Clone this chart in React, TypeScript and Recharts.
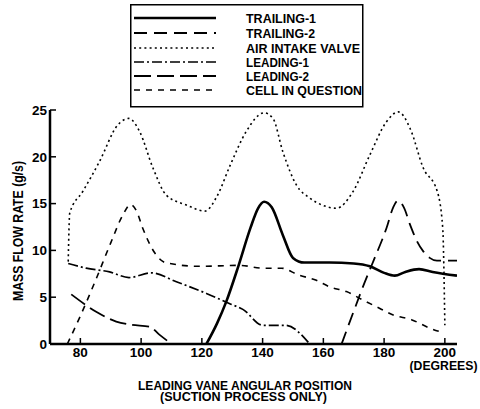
import React from 'react';
import { LineChart, Line, XAxis, YAxis } from 'recharts';

// [leading vane angle (deg), mass flow rate (g/s)]
const trailing1: [number, number][] = [
  [121.5, 0], [125, 2.2], [128, 4.5], [132, 8.3], [136, 12.4], [138.5, 14.5], [140.5, 15.2], [143, 14.6],
  [146.7, 11.6], [150, 9.2], [153.7, 8.7], [162, 8.7], [170, 8.6], [175.3, 8.3], [180, 7.6], [183.5, 7.3],
  [187, 7.7], [191.5, 8.0], [196, 7.7], [204, 7.3],
];
const trailing2: [number, number][] = [
  [166, 0], [170, 3.5], [173.5, 6.5], [176.4, 8.8], [180.8, 12.4], [183, 14.6], [184.5, 15.3], [186.5, 14.6],
  [188.6, 12.7], [190.8, 11], [192.9, 9.9], [195, 9.2], [197.4, 8.9], [204, 8.9],
];
const airIntake: [number, number][] = [
  [76, 8.8], [76.5, 14], [80.8, 16.3], [86.3, 19.5], [92.3, 23.4], [96, 24.1], [99.5, 22.7], [103.9, 18.8],
  [108.3, 15.9], [114.9, 14.85], [121, 14.2], [125, 15.8], [129.2, 19], [134.6, 22.7], [140.5, 24.7],
  [143.4, 24.1], [146.7, 20.5], [151.1, 17], [155.5, 15.6], [160, 14.8], [164.3, 14.5], [169.8, 16.3],
  [175.3, 20.2], [180.8, 23.75], [184.7, 24.8], [188.6, 23], [192.9, 18.8], [197.5, 16.3], [199.3, 12.4],
  [200, 2],
];
const leading1: [number, number][] = [
  [76, 8.6], [81.9, 8.1], [89.6, 7.7], [96, 7.1], [103.3, 7.6], [111.6, 6.65], [121.5, 5.4], [129.2, 4.3],
  [133.5, 3.7], [140.1, 2.0], [147.5, 2.0], [155.5, 0],
];
const leading2: [number, number][] = [
  [77, 5.3], [85.2, 3.45], [91.8, 2.4], [96.7, 2.05], [102.8, 1.85], [106, 1.0], [110, 0],
];
const cellInQuestion: [number, number][] = [
  [75.7, 0], [80, 3], [85, 6.8], [90, 10.8], [94, 13.8], [96.5, 14.9], [98.5, 14.2], [100.5, 12.4],
  [105, 9.5], [108, 8.7], [119, 8.3], [132.5, 8.4], [140, 8.1], [146.2, 8.1], [151.6, 7.4], [157.7, 6.8],
  [162.1, 6.1], [167.6, 5.6], [173, 4.7], [178.6, 3.8], [183, 3.1], [189, 2.6], [195, 1.7], [199.4, 1.2],
];

const xTicks = [80, 100, 120, 140, 160, 180, 200];
const yTicks = [0, 5, 10, 15, 20, 25];

const seriesNames = ['TRAILING-1', 'TRAILING-2', 'AIR INTAKE VALVE', 'LEADING-1', 'LEADING-2', 'CELL IN QUESTION'];
const legendTextWidths = [70, 69, 114, 63, 63, 116];

const toPoints = (arr: [number, number][]) => arr.map(([x, y]) => ({ x, y }));

const FONT = '"Liberation Sans", Arial, Helvetica, sans-serif';

const styles = [
  { data: trailing1, dash: undefined as string | undefined, width: 2.6 },
  { data: trailing2, dash: '13 7', width: 1.8 },
  { data: airIntake, dash: '2 3.2', width: 1.6 },
  { data: leading1, dash: '10 3 2 3', width: 1.7 },
  { data: leading2, dash: '17 6', width: 1.8 },
  { data: cellInQuestion, dash: '6 6', width: 1.6 },
];

function LegendBox() {
  const rowY = [18, 33, 48, 62, 76, 90];
  return (
    <svg width={480} height={409} style={{ position: 'absolute', left: 0, top: 0, pointerEvents: 'none' }}>
      <rect x={130.75} y={4.75} width={232} height={102} fill="#fff" stroke="#000" strokeWidth={1.5} />
      {styles.map((s, i) => (
        <line key={i} x1={134} x2={216} y1={rowY[i]} y2={rowY[i]} stroke="#000" strokeWidth={s.width} strokeDasharray={s.dash} />
      ))}
      {seriesNames.map((n, i) => (
        <text key={n} x={246} y={rowY[i] + 5} fontFamily={FONT} fontWeight="bold" fontSize={13} fill="#000"
          textLength={legendTextWidths[i]} lengthAdjust="spacingAndGlyphs">{n}</text>
      ))}
    </svg>
  );
}

function Titles() {
  return (
    <svg width={480} height={409} style={{ position: 'absolute', left: 0, top: 0, pointerEvents: 'none' }}>
      <text x={0} y={0} transform="translate(23 231) rotate(-90)" textAnchor="middle" fontFamily={FONT} fontWeight="bold"
        fontSize={14} fill="#000" textLength={140} lengthAdjust="spacingAndGlyphs">MASS FLOW RATE (g/s)</text>
      <text x={443.5} y={370} textAnchor="middle" fontFamily={FONT} fontWeight="bold" fontSize={13} fill="#000"
        textLength={68} lengthAdjust="spacingAndGlyphs">(DEGREES)</text>
      <text x={245} y={389.5} textAnchor="middle" fontFamily={FONT} fontWeight="bold" fontSize={13} fill="#000"
        textLength={214} lengthAdjust="spacingAndGlyphs">LEADING VANE ANGULAR POSITION</text>
      <text x={243.5} y={401} textAnchor="middle" fontFamily={FONT} fontWeight="bold" fontSize={13} fill="#000"
        textLength={167} lengthAdjust="spacingAndGlyphs">(SUCTION PROCESS ONLY)</text>
    </svg>
  );
}

export default function App() {
  return (
    <div style={{ position: 'absolute', left: 0, top: 0, width: 480, height: 409, background: '#fff', fontFamily: FONT }}>
      <LineChart width={480} height={409} margin={{ top: 110, right: 23, bottom: 35, left: 0 }}>
        <XAxis
          type="number"
          dataKey="x"
          domain={[70, 204]}
          ticks={xTicks}
          allowDataOverflow
          height={30}
          axisLine={{ stroke: '#000', strokeWidth: 2.5 }}
          tickLine={{ stroke: '#000', strokeWidth: 1.5 }}
          tickSize={-6}
          tickMargin={9}
          tick={{ fill: '#000', fontSize: 13.5, fontWeight: 'bold', fontFamily: FONT }}
        />
        <YAxis
          type="number"
          domain={[0, 25]}
          ticks={yTicks}
          width={50}
          axisLine={{ stroke: '#000', strokeWidth: 2.5 }}
          tickLine={{ stroke: '#000', strokeWidth: 1.5 }}
          tickSize={-6}
          tickMargin={9}
          tick={{ fill: '#000', fontSize: 13.5, fontWeight: 'bold', fontFamily: FONT }}
        />
        {styles.map((s, i) => (
          <Line
            key={seriesNames[i]}
            data={toPoints(s.data)}
            dataKey="y"
            type="monotone"
            stroke="#000"
            strokeWidth={s.width}
            strokeDasharray={s.dash}
            dot={false}
            activeDot={false}
            isAnimationActive={false}
          />
        ))}
      </LineChart>
      <LegendBox />
      <Titles />
    </div>
  );
}
